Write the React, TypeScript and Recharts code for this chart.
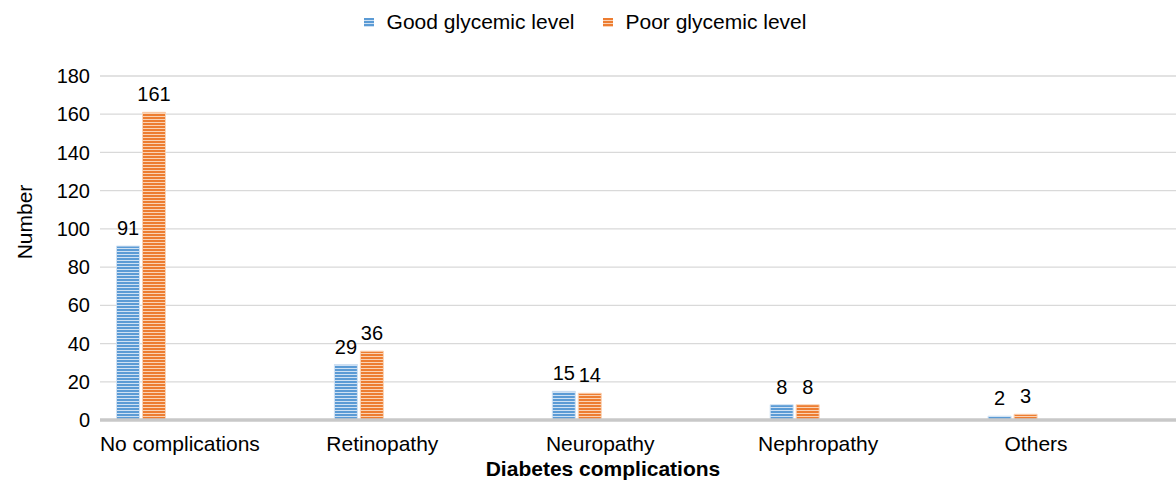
import React from 'react'
import {
  BarChart,
  Bar,
  XAxis,
  YAxis,
  CartesianGrid,
  Legend,
  LabelList,
} from 'recharts'

const categories = ['No complications', 'Retinopathy', 'Neuropathy', 'Nephropathy', 'Others']
const goodGlycemic = [91, 29, 15, 8, 2]
const poorGlycemic = [161, 36, 14, 8, 3]
const yTicks = [0, 20, 40, 60, 80, 100, 120, 140, 160, 180]

const chartData = categories.map((name, i) => ({
  name,
  good: goodGlycemic[i],
  poor: poorGlycemic[i],
}))

const FONT = '"Liberation Sans", Arial, Helvetica, sans-serif'

const series = [
  { key: 'good', name: 'Good glycemic level', fill: 'url(#stripeBlue)', edge: '#cfe1f3' },
  { key: 'poor', name: 'Poor glycemic level', fill: 'url(#stripeOrange)', edge: '#fad3b5' },
]

function CategoryTick(props: any) {
  const { x, y, payload, index } = props
  // Excel keeps the first label inside the plot and puts the others under the bar pair's right edge
  const first = index === 0
  return (
    <text
      x={first ? x - 41.5 : x + 23}
      y={y + 29}
      textAnchor={first ? 'start' : 'middle'}
      fontSize={21}
      fontFamily={FONT}
      fill="#000"
    >
      {payload.value}
    </text>
  )
}

function LegendContent() {
  return (
    <div
      style={{
        display: 'flex',
        justifyContent: 'center',
        gap: 28,
        fontFamily: FONT,
        fontSize: 21,
        lineHeight: '24px',
        color: '#000',
        paddingRight: 6,
      }}
    >
      {series.map((s) => (
        <div key={s.key} style={{ display: 'flex', alignItems: 'center' }}>
          <svg width={10} height={9} style={{ marginRight: 13 }}>
            <rect width={10} height={9} fill={s.fill} />
          </svg>
          <span>{s.name}</span>
        </div>
      ))}
    </div>
  )
}

export default function App() {
  return (
    <div style={{ position: 'absolute', left: 0, top: 0 }}>
      <BarChart
        width={1176}
        height={481}
        data={chartData}
        margin={{ top: 52, right: 0, left: 0, bottom: 0 }}
        barSize={23}
        barGap={3}
      >
        <defs>
          <pattern id="stripeBlue" width={4} height={3} patternUnits="userSpaceOnUse">
            <rect width={4} height={3} fill="#cfe1f3" />
            <rect width={4} height={2} fill="#5b9bd5" />
          </pattern>
          <pattern id="stripeOrange" width={4} height={3} patternUnits="userSpaceOnUse">
            <rect width={4} height={3} fill="#fad3b5" />
            <rect width={4} height={2} fill="#ed7d31" />
          </pattern>
        </defs>
        <CartesianGrid vertical={false} stroke="#d9d9d9" strokeWidth={1.3} />
        <XAxis
          dataKey="name"
          interval={0}
          height={61}
          padding={{ left: -67.5, right: 54 }}
          tickLine={false}
          tickSize={0}
          axisLine={{ stroke: '#c8c8c8', strokeWidth: 3.5 }}
          tick={<CategoryTick />}
          label={{
            content: (p: any) => (
              <text
                x={p.viewBox.x + p.viewBox.width / 2 - 35}
                y={p.viewBox.y + p.viewBox.height - 5}
                textAnchor="middle"
                fontSize={21}
                fontWeight="bold"
                fontFamily={FONT}
                fill="#000"
              >
                Diabetes complications
              </text>
            ),
          }}
        />
        <YAxis
          domain={[0, 180]}
          ticks={yTicks}
          width={100}
          axisLine={false}
          tickLine={false}
          tickSize={0}
          tickMargin={10}
          tick={{ fontSize: 20, fill: '#000', fontFamily: FONT }}
          label={{
            content: (p: any) => {
              const cx = 32
              const cy = p.viewBox.y + p.viewBox.height / 2 - 26
              return (
                <text
                  x={cx}
                  y={cy}
                  transform={`rotate(-90, ${cx}, ${cy})`}
                  textAnchor="middle"
                  fontSize={21}
                  fontFamily={FONT}
                  fill="#000"
                >
                  Number
                </text>
              )
            },
          }}
        />
        <Legend
          verticalAlign="top"
          content={<LegendContent />}
          wrapperStyle={{ top: 10, left: 0, width: 1176 }}
        />
        {series.map((s) => (
          <Bar
            key={s.key}
            dataKey={s.key}
            name={s.name}
            fill={s.fill}
            stroke={s.edge}
            strokeWidth={1}
            isAnimationActive={false}
          >
            <LabelList
              dataKey={s.key}
              position="top"
              offset={11}
              fontSize={20}
              fontFamily={FONT}
              fill="#000"
            />
          </Bar>
        ))}
      </BarChart>
    </div>
  )
}
